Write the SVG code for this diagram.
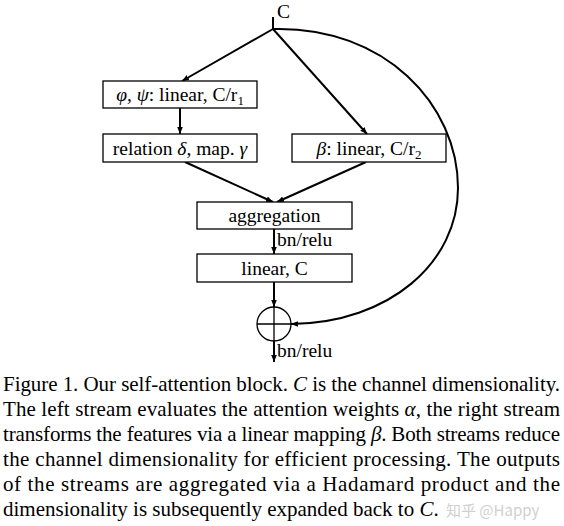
<svg xmlns="http://www.w3.org/2000/svg" width="564" height="526" viewBox="0 0 564 526">
<style>
text{font-family:"Liberation Serif","Times New Roman",serif;fill:#000}
.lbl{font-size:19.5px}
.box{fill:#fff;stroke:#000;stroke-width:1.3}
.ln{fill:none;stroke:#000;stroke-width:2}
.cap{font-size:21px}
.i{font-style:italic}
.sub{font-size:13px}
</style>
<defs>
<marker id="ah" viewBox="0 0 10 10" refX="10" refY="5" markerWidth="7" markerHeight="7" markerUnits="userSpaceOnUse" orient="auto">
<path d="M0,1 L10,5 L0,9 z" fill="#000"/>
</marker>
</defs>
<rect width="564" height="526" fill="#fff"/>
<g id="connectors">
<path class="ln" d="M273,17 L273,29"/>
<path class="ln" d="M273,29 L182,81" marker-end="url(#ah)"/>
<path class="ln" d="M273,29 L367,134" marker-end="url(#ah)"/>
<path class="ln" d="M180,108 L180,134" marker-end="url(#ah)"/>
<path class="ln" d="M185,162 L273,202" marker-end="url(#ah)"/>
<path class="ln" d="M366,162 L277,202" marker-end="url(#ah)"/>
<path class="ln" d="M274,229 L274,254" marker-end="url(#ah)"/>
<path class="ln" d="M274,282 L274,307" marker-end="url(#ah)"/>
<path class="ln" d="M274,341 L274,362" marker-end="url(#ah)"/>
<path class="ln" d="M273,29 C385,26 458,105 458,188 C458,262 390,323 291,324" marker-end="url(#ah)"/>
</g>
<g id="input"><text class="lbl" x="277" y="18">C</text></g>
<g id="phipsi">
<rect class="box" x="103" y="81" width="154" height="27"/>
<text class="lbl" x="180" y="101" text-anchor="middle"><tspan class="i">φ</tspan>, <tspan class="i">ψ</tspan>: linear, C/r<tspan class="sub" dy="4">1</tspan></text>
</g>
<g id="relation">
<rect class="box" x="103" y="134" width="154" height="28"/>
<text class="lbl" x="180" y="155" text-anchor="middle">relation <tspan class="i">δ</tspan>, map. <tspan class="i">γ</tspan></text>
</g>
<g id="beta">
<rect class="box" x="292" y="134" width="154" height="28"/>
<text class="lbl" x="369" y="155" text-anchor="middle"><tspan class="i">β</tspan>: linear, C/r<tspan class="sub" dy="4">2</tspan></text>
</g>
<g id="aggregation">
<rect class="box" x="197" y="202" width="155" height="27"/>
<text class="lbl" x="274.5" y="222" text-anchor="middle">aggregation</text>
<text class="lbl" x="277" y="246">bn/relu</text>
</g>
<g id="linear">
<rect class="box" x="197" y="254" width="155" height="28"/>
<text class="lbl" x="274.5" y="275" text-anchor="middle">linear, C</text>
</g>
<g id="sum">
<circle cx="274" cy="324" r="17" fill="#fff" stroke="#000" stroke-width="1.3"/>
<path d="M257,324 H291 M274,307 V341" stroke="#000" stroke-width="1.3"/>
<text class="lbl" x="277" y="357">bn/relu</text>
</g>
<g id="caption">
<text class="cap" x="3" y="391" textLength="557" lengthAdjust="spacing">Figure 1. Our self-attention block. <tspan class="i">C</tspan> is the channel dimensionality.</text>
<text class="cap" x="3" y="416" textLength="557" lengthAdjust="spacing">The left stream evaluates the attention weights <tspan class="i">α</tspan>, the right stream</text>
<text class="cap" x="3" y="441" textLength="557" lengthAdjust="spacing">transforms the features via a linear mapping <tspan class="i">β</tspan>. Both streams reduce</text>
<text class="cap" x="3" y="466" textLength="557" lengthAdjust="spacing">the channel dimensionality for efficient processing. The outputs</text>
<text class="cap" x="3" y="491" textLength="557" lengthAdjust="spacing">of the streams are aggregated via a Hadamard product and the</text>
<text class="cap" x="3" y="516">dimensionality is subsequently expanded back to <tspan class="i">C</tspan>.</text>
<text x="446" y="516" style="font-family:'Noto Sans CJK SC','Noto Sans',sans-serif;font-size:15px;fill:#d0d0d0">知乎 @Happy</text>
</g>
</svg>
